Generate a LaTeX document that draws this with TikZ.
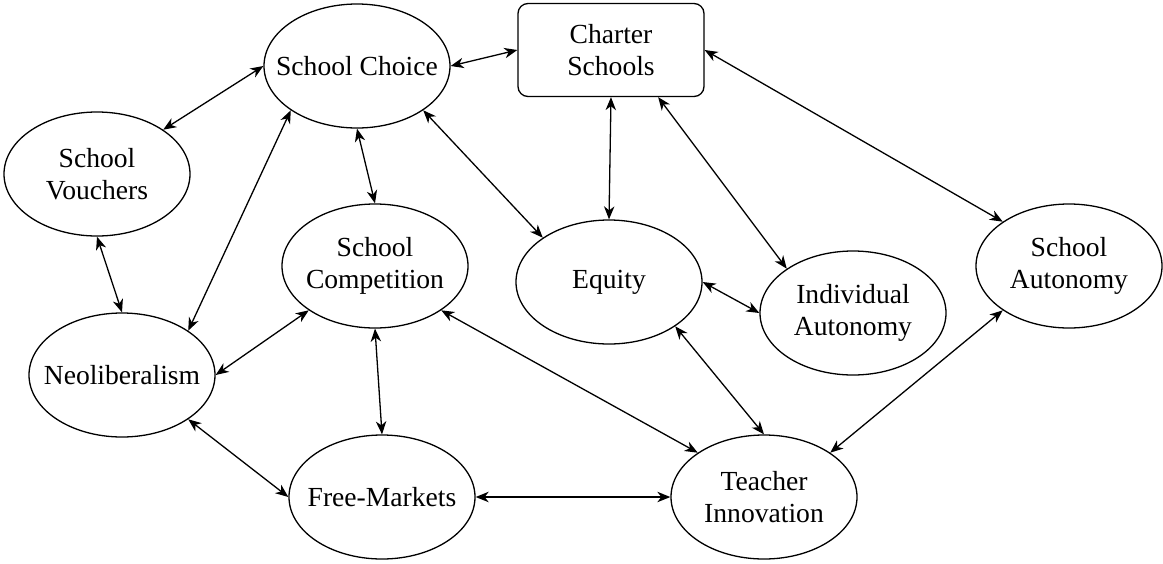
\documentclass[tikz,border=0pt]{standalone}
\usepackage{fontspec}
\setmainfont{Liberation Serif}
\usepackage{tikz}
\usetikzlibrary{arrows.meta, shapes}
\tikzset{>={Stealth[length=6.5pt, width=5.2pt, inset=2pt]}}
\tikzstyle{line} = [draw, <->, line width=0.65pt]
\tikzstyle{concept} = [draw, ellipse, line width=0.65pt, minimum width=93pt, minimum height=62pt, inner xsep=-8pt, align=center, font=\fontsize{13.8}{16}\selectfont]
\tikzstyle{box} = [draw, rectangle, rounded corners=5pt, line width=0.65pt, minimum width=93pt, minimum height=46.5pt, align=center, font=\fontsize{13.8}{16}\selectfont]

\begin{document}
\begin{tikzpicture}[x=0.5pt, y=-0.5pt]
                \useasboundingbox (0,0) rectangle (1163,563);

                % Create Nodes
                \node [concept] (choice) at (357,66) {School Choice};
                \node [box] (charter) at (611,50) {Charter\\Schools};
                \node [concept] (vouchers) at (97,174) {School\\Vouchers};
                \node [concept] (competition) at (375,266) {School\\Competition};
                \node [concept] (equity) at (609,282) {Equity};
                \node [concept] (indaut) at (853,313) {Individual\\Autonomy};
                \node [concept] (schaut) at (1069,266) {School\\Autonomy};
                \node [concept] (neolib) at (122,375) {Neoliberalism};
                \node [concept] (markets) at (382,497) {Free-Markets};
                \node [concept] (teacher) at (764,497) {Teacher\\Innovation};

                % Add Arrows
                \path [line] (choice.east) -- (charter.west);
                \path [line] (vouchers.north east) -- (choice.west);
                \path [line] (neolib.north east) -- (choice.south west);
                \path [line] (choice.south) -- (competition.north);
                \path [line] (choice.south east) -- (equity.north west);
                \path [line] (charter.south) -- (equity.north);
                \path [line] (charter.-45) -- (indaut.north west);
                \path [line] (charter.east) -- (schaut.north west);
                \path [line] (vouchers.south) -- (neolib.north);
                \path [line] (neolib.east) -- (competition.south west);
                \path [line] (competition.south) -- (markets.north);
                \path [line] (competition.south east) -- (teacher.north west);
                \path [line] (equity.east) -- (indaut.west);
                \path [line] (equity.south east) -- (teacher.north);
                \path [line] (schaut.south west) -- (teacher.north east);
                \path [line] (neolib.south east) -- (markets.west);
                \path [line] (markets.east) -- (teacher.west);
            \end{tikzpicture}
\end{document}
